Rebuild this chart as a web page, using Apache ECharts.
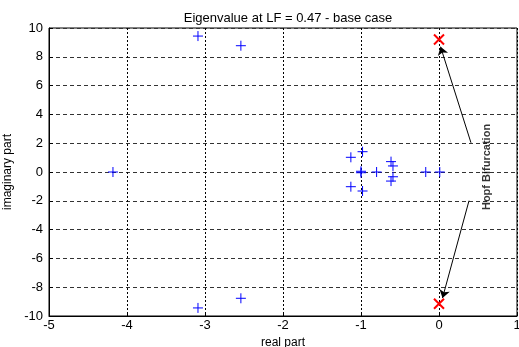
<!DOCTYPE html>
<html><head><meta charset="utf-8">
<script src="https://cdn.jsdelivr.net/npm/echarts@6/dist/echarts.min.js"></script>
<style>html,body{margin:0;padding:0;background:#fff}#c{width:519px;height:347px}</style>
</head><body><div id="c"></div>
<script>
const realParts = [-3.09, -2.54, -4.18, -3.09, -2.54, -1.13, -1.13, -0.98, -0.98, -1.0, -1.0, -0.80, -0.615, -0.59, -0.59, -0.615, -0.17, 0.01];
const imagParts = [9.44, 8.77, 0, -9.44, -8.77, 1.02, -1.02, 1.41, -1.32, 0.05, -0.05, 0, 0.72, 0.42, -0.33, -0.63, 0, 0];
const critReal = [0, 0];
const critImag = [9.2, -9.15];
const xTicks = [-5, -4, -3, -2, -1, 0, 1];
const yTicks = [-10, -8, -6, -4, -2, 0, 2, 4, 6, 8, 10];
const arrowStart = [[0.41, 2.03], [0.385, -1.99]];
const arrowEnd = [[0.02, 8.7], [0.045, -8.75]];
const noteText = 'Hopf Bifurcation';
const notePos = [0.62, 0.35];

const chart = echarts.init(document.getElementById('c'));
const ff = 'Liberation Sans, Arial, sans-serif';
chart.setOption({
  animation: false,
  backgroundColor: '#fff',
  title: { text: 'Eigenvalue at LF = 0.47 - base case', left: 283, top: 7, textAlign: 'center',
    textStyle: { fontFamily: ff, fontSize: 13, fontWeight: 'normal', color: '#000' } },
  grid: { left: 49, right: 2, top: 28, bottom: 31, show: true, borderColor: '#000', borderWidth: 1,
    containLabel: false, outerBoundsMode: 'none' },
  xAxis: { type: 'value', min: xTicks[0], max: xTicks[xTicks.length-1], interval: 1,
    name: 'real part', nameLocation: 'middle', nameGap: 14,
    nameTextStyle: { fontFamily: ff, fontSize: 12, color: '#000' },
    axisLine: { onZero: false, lineStyle: { color: '#000' } },
    axisTick: { inside: true, length: 4, lineStyle: { color: '#000' } },
    axisLabel: { fontFamily: ff, fontSize: 13, color: '#000', margin: 3 },
    splitLine: { show: true, lineStyle: { color: '#000', type: [2, 2], width: 1 } } },
  yAxis: { type: 'value', min: yTicks[0], max: yTicks[yTicks.length-1], interval: 2,
    name: 'imaginary part', nameLocation: 'middle', nameGap: 29,
    nameTextStyle: { fontFamily: ff, fontSize: 12, color: '#000' },
    axisLine: { onZero: false, lineStyle: { color: '#000' } },
    axisTick: { inside: true, length: 4, lineStyle: { color: '#000' } },
    axisLabel: { fontFamily: ff, fontSize: 13, color: '#000', margin: 6 },
    splitLine: { show: true, lineStyle: { color: '#333', type: [4, 3], width: 1 } } },
  series: [
    { type: 'scatter', data: realParts.map((x, i) => [x, imagParts[i]]),
      symbol: 'path://M0,5L10,5M5,0L5,10', symbolSize: 10,
      itemStyle: { color: 'none', borderColor: '#0000ff', borderWidth: 1, opacity: 1 }, z: 3 },
    { type: 'scatter', data: critReal.map((x, i) => [x, critImag[i]]),
      symbol: 'path://M0,0L10,10M10,0L0,10', symbolSize: 10,
      itemStyle: { color: 'none', borderColor: '#ff0000', borderWidth: 2, opacity: 1 }, z: 4 },
    { type: 'scatter', data: [notePos], symbolSize: 0, silent: true,
      label: { show: true, position: 'inside', rotate: 90, formatter: noteText,
        fontFamily: 'Liberation Sans Narrow, Arial Narrow, sans-serif', fontWeight: 'bold', fontSize: 11, color: '#000' },
      markLine: { silent: true, symbol: ['none', 'arrow'], symbolSize: 8,
        lineStyle: { color: '#000', width: 1, type: 'solid' }, label: { show: false },
        data: arrowStart.map((s, i) => [{ coord: s }, { coord: arrowEnd[i] }]) }, z: 5 }
  ]
});
</script></body></html>
